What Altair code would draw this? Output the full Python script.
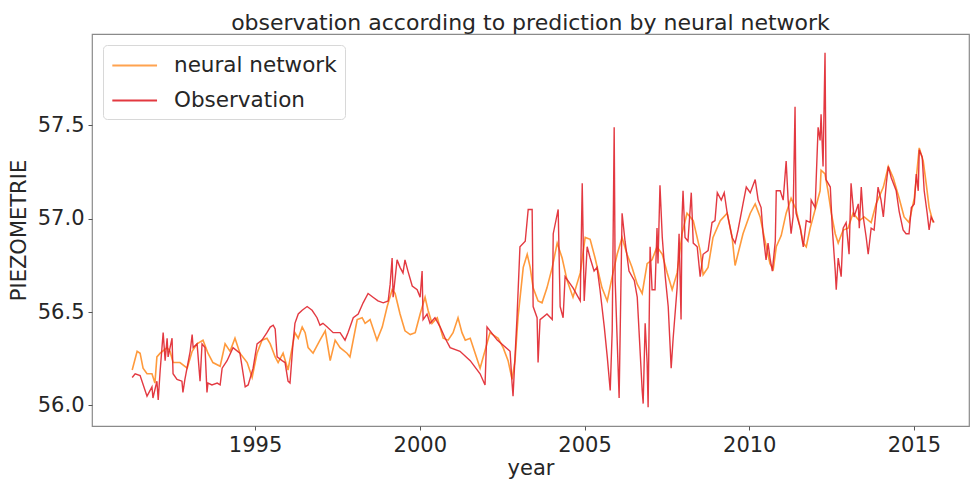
import altair as alt
import pandas as pd

# neural network prediction
nn_year = [1991.27, 1991.42, 1991.51, 1991.60, 1991.72, 1991.87, 1991.96, 1992.02, 1992.12, 1992.33,
           1992.42, 1992.51, 1992.72, 1992.94, 1993.09, 1993.24, 1993.42, 1993.57, 1993.72, 1993.94,
           1994.09, 1994.24, 1994.39, 1994.54, 1994.76, 1994.91, 1995.06, 1995.21, 1995.36, 1995.46,
           1995.61, 1995.70, 1995.85, 1996.00, 1996.21, 1996.31, 1996.43, 1996.52, 1996.61, 1996.76,
           1996.97, 1997.13, 1997.28, 1997.43, 1997.58, 1997.79, 1997.88, 1998.10, 1998.25, 1998.34,
           1998.49, 1998.70, 1998.86, 1999.01, 1999.16, 1999.25, 1999.40, 1999.55, 1999.71, 1999.86,
           2000.01, 2000.16, 2000.25, 2000.37, 2000.53, 2000.71, 2000.86, 2001.01, 2001.16, 2001.28,
           2001.38, 2001.53, 2001.68, 2001.83, 2002.13, 2002.38, 2002.53, 2002.68, 2002.80, 2002.89,
           2002.98, 2003.14, 2003.26, 2003.35, 2003.44, 2003.59, 2003.71, 2003.86, 2004.02, 2004.17,
           2004.32, 2004.47, 2004.65, 2004.87, 2005.02, 2005.17, 2005.32, 2005.53, 2005.69, 2005.84,
           2005.99, 2006.14, 2006.29, 2006.44, 2006.60, 2006.75, 2006.90, 2007.05, 2007.20, 2007.36,
           2007.51, 2007.66, 2007.81, 2007.96, 2008.11, 2008.30, 2008.51, 2008.60, 2008.75, 2008.90,
           2009.12, 2009.33, 2009.48, 2009.57, 2009.81, 2010.03, 2010.18, 2010.33, 2010.48, 2010.63,
           2010.73, 2010.82, 2010.97, 2011.12, 2011.27, 2011.42, 2011.55, 2011.64, 2011.73, 2011.85,
           2012.00, 2012.15, 2012.18, 2012.30, 2012.39, 2012.49, 2012.61, 2012.70, 2012.85, 2013.00,
           2013.15, 2013.34, 2013.49, 2013.70, 2013.85, 2014.07, 2014.22, 2014.37, 2014.55, 2014.70,
           2014.85, 2015.01, 2015.16, 2015.28, 2015.37, 2015.46, 2015.58]
nn_value = [56.19, 56.29, 56.28, 56.20, 56.17, 56.17, 56.12, 56.26, 56.28, 56.31,
            56.29, 56.23, 56.23, 56.20, 56.29, 56.33, 56.35, 56.28, 56.23, 56.21,
            56.33, 56.29, 56.36, 56.28, 56.23, 56.15, 56.28, 56.35, 56.36, 56.33,
            56.26, 56.23, 56.28, 56.19, 56.39, 56.36, 56.42, 56.39, 56.31, 56.28,
            56.35, 56.40, 56.24, 56.35, 56.31, 56.28, 56.26, 56.46, 56.47, 56.44,
            56.46, 56.35, 56.42, 56.53, 56.62, 56.60, 56.49, 56.40, 56.38, 56.39,
            56.49, 56.58, 56.51, 56.44, 56.47, 56.36, 56.35, 56.39, 56.47, 56.39,
            56.35, 56.36, 56.28, 56.20, 56.39, 56.36, 56.31, 56.24, 56.14, 56.24,
            56.47, 56.74, 56.81, 56.74, 56.63, 56.56, 56.55, 56.63, 56.74, 56.87,
            56.79, 56.67, 56.58, 56.71, 56.90, 56.89, 56.79, 56.63, 56.56, 56.69,
            56.81, 56.90, 56.81, 56.74, 56.65, 56.60, 56.76, 56.78, 56.85, 56.81,
            56.71, 56.62, 56.71, 56.92, 57.03, 56.99, 56.83, 56.70, 56.74, 56.90,
            56.99, 57.03, 56.90, 56.75, 56.92, 57.03, 57.08, 57.01, 56.88, 56.76,
            56.73, 56.85, 56.91, 57.03, 57.11, 57.05, 56.95, 56.87, 56.85, 56.95,
            57.05, 57.15, 57.26, 57.24, 57.15, 57.03, 56.92, 56.87, 56.94, 56.95,
            57.03, 56.99, 57.01, 56.98, 57.08, 57.17, 57.28, 57.22, 57.11, 57.01,
            56.98, 57.11, 57.38, 57.31, 57.19, 57.06, 56.98]

# observation
obs_year = [1991.27, 1991.36, 1991.51, 1991.72, 1991.87, 1991.90, 1992.02, 1992.06, 1992.12, 1992.21,
            1992.27, 1992.33, 1992.36, 1992.48, 1992.51, 1992.63, 1992.78, 1992.81, 1992.87, 1993.03,
            1993.09, 1993.12, 1993.24, 1993.33, 1993.39, 1993.48, 1993.54, 1993.57, 1993.69, 1993.85,
            1993.94, 1994.00, 1994.15, 1994.33, 1994.54, 1994.70, 1994.79, 1994.94, 1995.06, 1995.21,
            1995.36, 1995.46, 1995.55, 1995.61, 1995.67, 1995.82, 1995.91, 1996.00, 1996.06, 1996.15,
            1996.21, 1996.31, 1996.43, 1996.58, 1996.73, 1996.88, 1996.97, 1997.06, 1997.19, 1997.37,
            1997.58, 1997.73, 1997.82, 1997.98, 1998.13, 1998.28, 1998.43, 1998.58, 1998.73, 1998.89,
            1999.04, 1999.10, 1999.16, 1999.19, 1999.31, 1999.40, 1999.49, 1999.55, 1999.64, 1999.77,
            1999.92, 2000.01, 2000.07, 2000.10, 2000.22, 2000.31, 2000.46, 2000.62, 2000.77, 2000.92,
            2001.22, 2001.53, 2001.83, 2001.98, 2002.04, 2002.35, 2002.74, 2002.80, 2002.83, 2002.95,
            2003.04, 2003.20, 2003.29, 2003.41, 2003.44, 2003.56, 2003.59, 2003.65, 2003.86, 2004.02,
            2004.05, 2004.20, 2004.26, 2004.35, 2004.41, 2004.65, 2004.87, 2004.93, 2004.99, 2005.08,
            2005.17, 2005.29, 2005.38, 2005.47, 2005.60, 2005.69, 2005.78, 2005.84, 2005.90, 2005.93,
            2006.05, 2006.14, 2006.23, 2006.35, 2006.51, 2006.60, 2006.75, 2006.78, 2006.84, 2006.90,
            2006.93, 2006.99, 2007.05, 2007.14, 2007.20, 2007.23, 2007.29, 2007.36, 2007.45, 2007.54,
            2007.63, 2007.69, 2007.81, 2007.87, 2007.93, 2007.96, 2007.99, 2008.05, 2008.14, 2008.24,
            2008.30, 2008.42, 2008.51, 2008.60, 2008.75, 2008.87, 2008.96, 2009.03, 2009.15, 2009.24,
            2009.33, 2009.48, 2009.57, 2009.66, 2009.81, 2009.91, 2010.03, 2010.18, 2010.27, 2010.36,
            2010.42, 2010.51, 2010.57, 2010.63, 2010.70, 2010.79, 2010.82, 2010.94, 2011.03, 2011.12,
            2011.18, 2011.27, 2011.33, 2011.39, 2011.42, 2011.55, 2011.64, 2011.73, 2011.85, 2011.88,
            2012.00, 2012.09, 2012.15, 2012.18, 2012.24, 2012.30, 2012.33, 2012.46, 2012.52, 2012.61,
            2012.64, 2012.70, 2012.79, 2012.85, 2012.94, 2013.03, 2013.09, 2013.18, 2013.31, 2013.34,
            2013.40, 2013.46, 2013.55, 2013.61, 2013.70, 2013.79, 2013.91, 2014.00, 2014.07, 2014.16,
            2014.22, 2014.31, 2014.46, 2014.55, 2014.67, 2014.76, 2014.85, 2014.92, 2015.01, 2015.07,
            2015.13, 2015.16, 2015.25, 2015.31, 2015.40, 2015.46, 2015.52, 2015.61]
obs_value = [56.15, 56.17, 56.16, 56.05, 56.10, 56.04, 56.13, 56.03, 56.19, 56.39,
             56.24, 56.36, 56.26, 56.36, 56.17, 56.14, 56.13, 56.07, 56.14, 56.29,
             56.38, 56.31, 56.33, 56.13, 56.33, 56.31, 56.07, 56.12, 56.11, 56.12,
             56.11, 56.20, 56.24, 56.31, 56.28, 56.10, 56.11, 56.20, 56.33, 56.35,
             56.39, 56.42, 56.43, 56.41, 56.26, 56.24, 56.23, 56.13, 56.12, 56.33,
             56.44, 56.49, 56.51, 56.53, 56.51, 56.47, 56.43, 56.44, 56.42, 56.39,
             56.39, 56.35, 56.39, 56.47, 56.49, 56.55, 56.60, 56.58, 56.56, 56.55,
             56.56, 56.65, 56.79, 56.58, 56.78, 56.74, 56.71, 56.78, 56.72, 56.64,
             56.62, 56.58, 56.72, 56.46, 56.49, 56.44, 56.47, 56.42, 56.36, 56.31,
             56.29, 56.24, 56.17, 56.11, 56.42, 56.35, 56.29, 56.12, 56.05, 56.47,
             56.85, 56.88, 57.05, 57.05, 56.53, 56.47, 56.23, 56.46, 56.49, 56.46,
             56.92, 57.05, 56.53, 56.47, 56.69, 56.63, 56.56, 57.19, 56.56, 56.85,
             56.79, 56.72, 56.74, 56.62, 56.42, 56.26, 56.08, 56.40, 57.49, 56.67,
             56.04, 57.03, 56.88, 56.72, 56.67, 56.58, 56.08, 56.01, 56.44, 56.23,
             55.99, 56.85, 56.62, 56.62, 56.95, 56.76, 57.18, 56.90, 56.69, 56.53,
             56.20, 56.36, 56.63, 56.92, 56.46, 57.01, 57.15, 56.90, 56.88, 57.14,
             56.87, 56.85, 56.69, 56.81, 56.83, 56.98, 56.99, 57.14, 57.10, 57.14,
             57.03, 56.90, 56.87, 56.94, 57.08, 57.17, 57.14, 57.21, 57.10, 57.06,
             56.92, 56.78, 56.87, 56.79, 56.72, 56.88, 57.15, 57.15, 57.10, 57.31,
             57.10, 56.92, 57.01, 57.60, 57.03, 56.95, 56.85, 56.99, 56.98, 57.10,
             57.06, 57.49, 57.42, 57.56, 57.28, 57.89, 57.21, 57.17, 56.95, 56.72,
             56.62, 56.79, 56.69, 56.95, 56.98, 56.81, 57.19, 57.01, 57.08, 56.95,
             57.17, 57.01, 56.90, 56.81, 56.95, 56.94, 57.17, 57.10, 57.01, 57.19,
             57.28, 57.22, 57.15, 57.04, 56.94, 56.92, 56.92, 57.06, 57.08, 57.24,
             57.15, 57.37, 57.33, 57.15, 57.03, 56.94, 57.01, 56.98]

series_names = ["neural network", "Observation"]
series_colors = ["#ff9a3c", "#e0242c"]
x_ticks = [1995, 2000, 2005, 2010, 2015]
y_ticks = [56.0, 56.5, 57.0, 57.5]

nn_df = pd.DataFrame({"year": nn_year, "value": nn_value, "series": series_names[0], "order": range(len(nn_year))})
obs_df = pd.DataFrame({"year": obs_year, "value": obs_value, "series": series_names[1], "order": range(len(obs_year))})

FONT = "DejaVu Sans"
TXT = "#262626"

x_enc = alt.X("year:Q",
              scale=alt.Scale(domain=[1990.05, 2016.67], nice=False, zero=False),
              axis=alt.Axis(values=x_ticks, format="d", title="year", grid=False,
                            tickSize=4, labelPadding=4, titlePadding=2))
y_enc = alt.Y("value:Q",
              scale=alt.Scale(domain=[55.89, 57.99], nice=False, zero=False),
              axis=alt.Axis(values=y_ticks, format=".1f", title="PIEZOMETRIE", grid=False,
                            tickSize=4, labelPadding=4, titlePadding=8))
color_enc = alt.Color("series:N",
                      scale=alt.Scale(domain=series_names, range=series_colors),
                      legend=alt.Legend(title=None, orient="none", legendX=11, legendY=11,
                                        symbolType="M-1,0H3", symbolSize=500, symbolStrokeWidth=2,
                                        symbolFillColor="transparent",
                                        labelFontSize=21.5, labelFont=FONT, labelColor=TXT,
                                        labelLimit=400,
                                        labelOffset=38, rowPadding=12, padding=8,
                                        strokeColor="#d8d8d8", fillColor="white", cornerRadius=4))

nn_line = alt.Chart(nn_df).mark_line(strokeWidth=1.6, clip=True).encode(
    x=x_enc, y=y_enc, color=color_enc, order="order:Q")
obs_line = alt.Chart(obs_df).mark_line(strokeWidth=1.4, opacity=0.9, clip=True).encode(
    x=x_enc, y=y_enc, color=color_enc, order="order:Q")

chart = alt.layer(nn_line, obs_line).properties(
    width=877, height=392,
    title=alt.TitleParams("observation according to prediction by neural network",
                          fontSize=22, font=FONT, fontWeight="normal", color=TXT,
                          anchor="middle", offset=3, dy=4),
    autosize=alt.AutoSizeParams(type="none"),
    padding={"left": 84, "top": 26, "right": 1, "bottom": 58},
).configure_view(
    stroke="#8a8a8a", strokeWidth=1.2
).configure_axis(
    labelFont=FONT, titleFont=FONT, labelFontSize=21, titleFontSize=21,
    labelColor=TXT, titleColor=TXT, titleFontWeight="normal",
    domain=False, tickColor="#555", tickWidth=1
)

chart.save("out.html", embed_options={"renderer": "svg", "actions": False})
